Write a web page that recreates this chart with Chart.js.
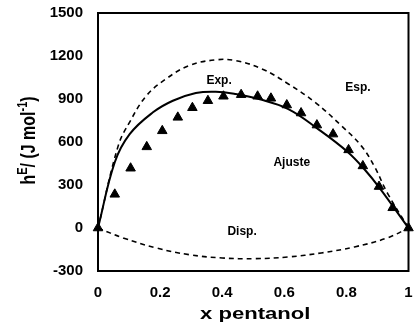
<!DOCTYPE html>
<html>
<head>
<meta charset="utf-8">
<script src="https://cdn.jsdelivr.net/npm/chart.js@4.4.1/dist/chart.umd.min.js"></script>
<style>
  html, body { margin: 0; padding: 0; background: #fff; }
  #wrap { width: 415px; height: 323px; }
</style>
</head>
<body>
<div id="wrap"><canvas id="chart" width="415" height="323"></canvas></div>
<script>
// experimental points (triangles)
const xExp = [0, 0.054, 0.105, 0.157, 0.207, 0.257, 0.304, 0.354, 0.404, 0.461, 0.514,
  0.557, 0.608, 0.654, 0.705, 0.757, 0.807, 0.853, 0.905, 0.949, 1];
const hExp = [0, 235, 417, 566, 678, 772, 839, 888, 919, 930, 919,
  905, 858, 802, 718, 655, 545, 433, 289, 141, 0];

// fitted curve (solid)
const xFit = [0, 0.054, 0.102, 0.177, 0.241, 0.315, 0.379, 0.443, 0.518, 0.613, 0.709, 0.805, 0.858, 0.906, 1];
const hFit = [0, 459, 655, 807, 888, 942, 951, 935, 900, 830, 690, 529, 410, 282, 0];

// upper dashed curve
const xEsp = [0, 0.065, 0.102, 0.156, 0.219, 0.294, 0.379, 0.443, 0.528, 0.613, 0.699, 0.784, 0.848, 0.89, 0.933, 1];
const hEsp = [0, 573, 739, 923, 1040, 1133, 1173, 1168, 1110, 1005, 877, 713, 573, 430, 240, 0];

// lower dashed curve
const xDisp = [0, 0.081, 0.187, 0.294, 0.4, 0.506, 0.613, 0.719, 0.826, 0.932, 1];
const hDisp = [0, -69, -139, -186, -209, -214, -202, -174, -132, -69, 0];

const yTicks = [-300, 0, 300, 600, 900, 1200, 1500];
const xTicks = [0, 0.2, 0.4, 0.6, 0.8, 1];

const curveLabels = [
  { text: "Exp.", x: 0.39, y: 1030 },
  { text: "Esp.", x: 0.837, y: 976 },
  { text: "Ajuste", x: 0.624, y: 458 },
  { text: "Disp.", x: 0.464, y: -23 },
];

const toPoints = (xs, ys) => xs.map((x, i) => ({ x: x, y: ys[i] }));

const FONT = "'Liberation Sans', Arial, sans-serif";

// box around the plot, curve captions and both axis titles
const decorations = {
  id: "decorations",
  beforeDatasetsDraw(chart) {
    const { ctx, chartArea: a } = chart;
    ctx.save();
    ctx.strokeStyle = "#000";
    ctx.lineWidth = 2;
    ctx.strokeRect(a.left, a.top, a.right - a.left, a.bottom - a.top);
    ctx.restore();
  },
  afterDatasetsDraw(chart) {
    const { ctx, scales, chartArea: a } = chart;
    ctx.save();
    ctx.fillStyle = "#000";
    ctx.font = "bold 12px " + FONT;
    ctx.textAlign = "center";
    ctx.textBaseline = "middle";
    curveLabels.forEach((l) => {
      ctx.fillText(l.text, scales.x.getPixelForValue(l.x), scales.y.getPixelForValue(l.y));
    });

    // x title, set a little wide
    ctx.save();
    ctx.font = "bold 17px " + FONT;
    ctx.textBaseline = "alphabetic";
    ctx.translate((a.left + a.right) / 2 + 2, 319);
    ctx.scale(1.3, 1);
    ctx.fillText("x pentanol", 0, 0);
    ctx.restore();

    // h^E / (J mol^-1)
    const parts = [
      { t: "h", sup: false },
      { t: "E", sup: true },
      { t: "/ (J mol", sup: false },
      { t: "-1", sup: true },
      { t: ")", sup: false },
    ];
    const big = "bold 16px " + FONT;
    const small = "bold 11px " + FONT;
    let total = 0;
    parts.forEach((p) => {
      ctx.font = p.sup ? small : big;
      total += ctx.measureText(p.t).width;
    });
    ctx.translate(29, 140.5);
    ctx.rotate(-Math.PI / 2);
    ctx.scale(1, 1.25);
    ctx.textAlign = "left";
    ctx.textBaseline = "alphabetic";
    let x = -total / 2;
    parts.forEach((p) => {
      ctx.font = p.sup ? small : big;
      ctx.fillText(p.t, x, p.sup ? -1.5 : 5);
      x += ctx.measureText(p.t).width;
    });
    ctx.restore();
  },
};

const lineSet = (label, xs, ys, dashed) => ({
  label: label,
  data: toPoints(xs, ys),
  showLine: true,
  borderColor: "#000",
  borderWidth: dashed ? 1.6 : 2,
  borderDash: dashed ? [5, 4] : [],
  pointRadius: 0,
  tension: 0.4,
  clip: false,
});

new Chart(document.getElementById("chart").getContext("2d"), {
  type: "scatter",
  data: {
    datasets: [
      lineSet("Ajuste", xFit, hFit, false),
      lineSet("Esp.", xEsp, hEsp, true),
      lineSet("Disp.", xDisp, hDisp, true),
      {
        label: "Exp.",
        data: toPoints(xExp, hExp),
        showLine: false,
        pointStyle: "triangle",
        pointRadius: 5.5,
        backgroundColor: "#000",
        borderColor: "#000",
        borderWidth: 1,
        clip: false,
      },
    ],
  },
  options: {
    responsive: false,
    animation: false,
    layout: { padding: { top: 13, right: 4, left: 0, bottom: 0 } },
    plugins: { legend: { display: false }, tooltip: { enabled: false } },
    scales: {
      x: {
        type: "linear",
        min: 0,
        max: 1,
        afterFit: (scale) => {
          scale.height = 52;
          scale.paddingLeft = 0;
          scale.paddingRight = 0;
        },
        afterBuildTicks: (scale) => { scale.ticks = xTicks.map((v) => ({ value: v })); },
        grid: { display: false, drawTicks: false },
        border: { display: false },
        ticks: {
          color: "#000",
          padding: 13,
          maxRotation: 0,
          font: { family: FONT, size: 15, weight: "bold" },
          callback: (v) => String(v),
        },
      },
      y: {
        min: -300,
        max: 1500,
        afterFit: (scale) => {
          scale.width = 98;
          scale.paddingTop = 0;
          scale.paddingBottom = 0;
        },
        afterBuildTicks: (scale) => { scale.ticks = yTicks.map((v) => ({ value: v })); },
        grid: { display: false, drawTicks: false },
        border: { display: false },
        ticks: {
          color: "#000",
          padding: 15,
          font: { family: FONT, size: 15, weight: "bold" },
          callback: (v) => String(v),
        },
      },
    },
  },
  plugins: [decorations],
});
</script>
</body>
</html>
